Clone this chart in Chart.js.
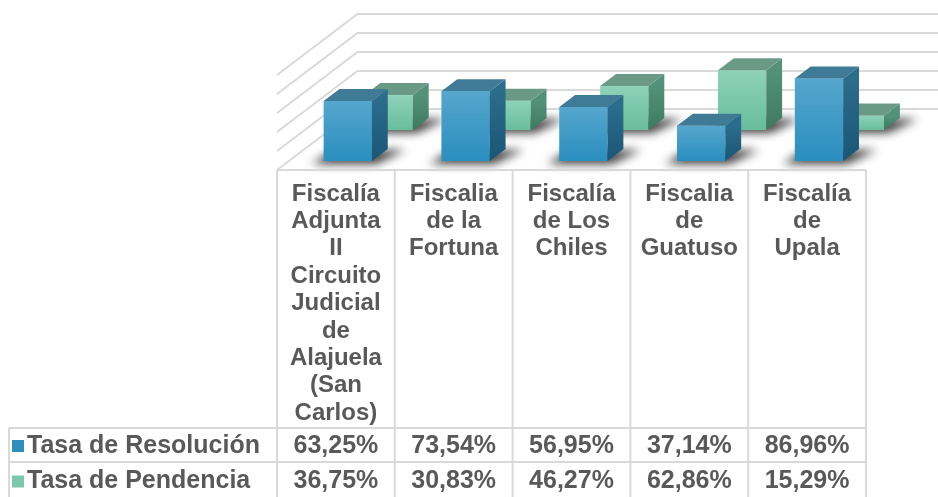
<!DOCTYPE html>
<html>
<head>
<meta charset="utf-8">
<script src="https://cdn.jsdelivr.net/npm/chart.js@4.4.1/dist/chart.umd.min.js"></script>
<style>
  html, body { margin: 0; padding: 0; background: #ffffff; }
  #wrap { width: 938px; height: 497px; }
</style>
</head>
<body>
<div id="wrap"><canvas id="chart" width="938" height="497"></canvas></div>
<script>
// chart data
const categories = [
    ['Fiscalía', 'Adjunta', 'II', 'Circuito', 'Judicial', 'de', 'Alajuela', '(San', 'Carlos)'],
    ['Fiscalia', 'de la', 'Fortuna'],
    ['Fiscalía', 'de Los', 'Chiles'],
    ['Fiscalia', 'de', 'Guatuso'],
    ['Fiscalía', 'de', 'Upala']
];
const seriesNames = ['Tasa de Resolución', 'Tasa de Pendencia'];
const tasaResolucion = [63.25, 73.54, 56.95, 37.14, 86.96];
const tasaPendencia = [36.75, 30.83, 46.27, 62.86, 15.29];
const gridTicks = [0, 20, 40, 60, 80, 100];

// 3d look
const K = 1.32;            // sideways shift per px of depth
const wallDepth = 61;
const rowDepth = [[9, 21], [40, 52]];   // front/back depth of each series row
const faceColors = [
    { front: ['#55a7cd', '#2a8ebf'], side: ['#2c6c8c', '#1a5674'], top: '#3f7b97', swatch: '#2e8fbf' },
    { front: ['#8ed2b9', '#68bd9c'], side: ['#54917a', '#3e7a62'], top: '#6a9a86', swatch: '#7cc8aa' }
];
const textColor = '#595959';
const lineColor = '#d9d9d9';

function fmt(v) {
    return v.toFixed(2).replace('.', ',') + '%';
}

function drawCube(ctx, el, depth, col) {
    const half = el.width / 2;
    const d0 = depth[0], dd = depth[1] - depth[0];
    const xl = el.x - half + d0 * K, xr = el.x + half + d0 * K;
    const yt = el.y - d0, yb = el.base - d0;
    const sx = dd * K;

    // soft floor shadow
    ctx.save();
    ctx.filter = 'blur(5px)';
    ctx.fillStyle = 'rgba(0,0,0,0.75)';
    ctx.beginPath();
    ctx.moveTo(xl - 12, yb + 3);
    ctx.lineTo(xr + 4, yb + 3);
    ctx.lineTo(xr + sx + 18, yb - dd + 1);
    ctx.lineTo(xl + sx - 6, yb - dd + 1);
    ctx.closePath();
    ctx.fill();
    ctx.restore();

    // front face
    let g = ctx.createLinearGradient(0, yt, 0, yb);
    g.addColorStop(0, col.front[0]);
    g.addColorStop(1, col.front[1]);
    ctx.fillStyle = g;
    ctx.fillRect(xl, yt, xr - xl, yb - yt);

    // side face
    g = ctx.createLinearGradient(0, yt, 0, yb);
    g.addColorStop(0, col.side[0]);
    g.addColorStop(1, col.side[1]);
    ctx.fillStyle = g;
    ctx.beginPath();
    ctx.moveTo(xr, yt);
    ctx.lineTo(xr + sx, yt - dd);
    ctx.lineTo(xr + sx, yb - dd);
    ctx.lineTo(xr, yb);
    ctx.closePath();
    ctx.fill();

    // top face
    ctx.fillStyle = col.top;
    ctx.beginPath();
    ctx.moveTo(xl, yt);
    ctx.lineTo(xr, yt);
    ctx.lineTo(xr + sx, yt - dd);
    ctx.lineTo(xl + sx, yt - dd);
    ctx.closePath();
    ctx.fill();
}

const bars3d = {
    id: 'bars3d',
    beforeDatasetsDraw(chart) {
        const ctx = chart.ctx;
        const y = chart.scales.y;
        const left = chart.chartArea.left;
        ctx.save();
        ctx.strokeStyle = lineColor;
        ctx.lineWidth = 2;
        gridTicks.forEach(v => {
            const py = y.getPixelForValue(v);
            const bx = left + wallDepth * K, by = py - wallDepth;
            ctx.beginPath();
            ctx.moveTo(left, py);
            ctx.lineTo(bx, by);
            ctx.lineTo(chart.width, by);
            ctx.stroke();
        });
        ctx.restore();
    },
    afterDatasetsDraw(chart) {
        const ctx = chart.ctx;
        // back row first, then front row
        [1, 0].forEach(i => {
            const meta = chart.getDatasetMeta(i);
            meta.data.forEach(bar => {
                const el = bar.getProps(['x', 'y', 'base', 'width'], true);
                drawCube(ctx, el, rowDepth[i], faceColors[i]);
            });
        });
    },
    afterDraw(chart) {
        const ctx = chart.ctx;
        const x = chart.scales.x;
        const area = chart.chartArea;
        const step = (area.right - area.left) / categories.length;
        const tableTop = area.bottom;
        const row1 = 428, row2 = 462, tableBottom = 497, legendLeft = 9;

        ctx.save();
        ctx.strokeStyle = lineColor;
        ctx.lineWidth = 2;
        ctx.beginPath();
        ctx.moveTo(area.left, tableTop);
        ctx.lineTo(area.right, tableTop);
        [row1, row2].forEach(yy => {
            ctx.moveTo(legendLeft, yy);
            ctx.lineTo(area.right, yy);
        });
        for (let i = 0; i <= categories.length; i++) {
            const cx = area.left + i * step;
            ctx.moveTo(cx, tableTop);
            ctx.lineTo(cx, tableBottom);
        }
        ctx.moveTo(legendLeft, row1);
        ctx.lineTo(legendLeft, tableBottom);
        ctx.stroke();

        ctx.fillStyle = textColor;
        ctx.font = 'bold 24px "Liberation Sans", Arial, sans-serif';
        ctx.textAlign = 'center';
        ctx.textBaseline = 'middle';
        categories.forEach((lines, i) => {
            const cx = x.getPixelForValue(i);
            lines.forEach((t, j) => ctx.fillText(t, cx, 194 + j * 27.4));
        });

        ctx.font = 'bold 25px "Liberation Sans", Arial, sans-serif';
        const rows = [tasaResolucion, tasaPendencia];
        const rowMid = [(row1 + row2) / 2 + 1, (row2 + 497) / 2 + 2];
        rows.forEach((vals, r) => {
            vals.forEach((v, i) => {
                ctx.fillStyle = textColor;
                ctx.textAlign = 'center';
                ctx.fillText(fmt(v), x.getPixelForValue(i), rowMid[r]);
            });
            ctx.fillStyle = faceColors[r].swatch;
            ctx.fillRect(12, rowMid[r] - 6, 12, 12);
            ctx.fillStyle = textColor;
            ctx.textAlign = 'left';
            ctx.fillText(seriesNames[r], 27, rowMid[r]);
        });
        ctx.restore();
    }
};

const ctx = document.getElementById('chart').getContext('2d');
new Chart(ctx, {
    type: 'bar',
    data: {
        labels: categories,
        datasets: [
            { label: seriesNames[0], data: tasaResolucion, backgroundColor: 'rgba(0,0,0,0)', borderWidth: 0 },
            { label: seriesNames[1], data: tasaPendencia, backgroundColor: 'rgba(0,0,0,0)', borderWidth: 0 }
        ]
    },
    options: {
        responsive: false,
        animation: false,
        layout: { padding: { left: 277, right: 72, top: 75, bottom: 327 } },
        datasets: { bar: { grouped: false, categoryPercentage: 1, barPercentage: 0.41 } },
        plugins: { legend: { display: false }, tooltip: { enabled: false } },
        scales: {
            x: { display: false },
            y: { display: false, min: 0, max: 100 }
        }
    },
    plugins: [bars3d]
});
</script>
</body>
</html>
